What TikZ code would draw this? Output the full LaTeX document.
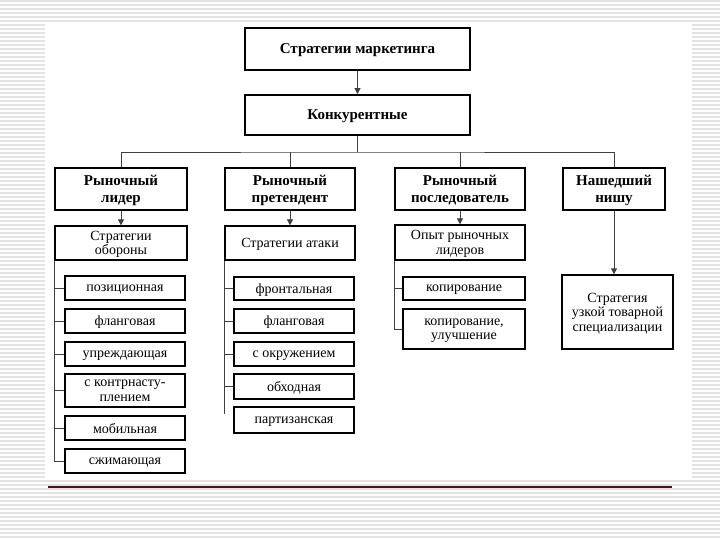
\documentclass[tikz,border=0pt]{standalone}
\usepackage{fontspec}
\setmainfont{Liberation Serif}
\usetikzlibrary{arrows.meta}
\definecolor{rulered}{RGB}{80,20,20}
\tikzset{
    stripe/.style={gray!22, line width=1.6pt},
    headbox/.style={draw, line width=1.8pt, align=center, inner sep=0pt, text depth=-1pt,
        font=\fontsize{15}{17}\selectfont\bfseries},
    subbox/.style={draw, line width=1.3pt, align=center, inner sep=0pt, text depth=-2pt,
        font=\fontsize{14}{14.5}\selectfont},
    link/.style={line width=0.8pt, black!75},
    arr/.style={link, -{Triangle[width=6pt, length=6pt]}}
}
\begin{document}
\begin{tikzpicture}[x=1pt, y=-1pt]

    \useasboundingbox (0,0) rectangle (720,540);

    % slide background
    \foreach \y in {1,5,...,539}
        \draw[stripe] (0,\y) -- (720,\y);
    \fill[white] (45,23) rectangle (692,479);
    \draw[line width=1.4pt, rulered] (48,487) -- (672,487);

    % top levels
    \node[headbox, minimum width=225pt, minimum height=42pt] (mark) at (357.5,49) {Стратегии маркетинга};
    \node[headbox, minimum width=225pt, minimum height=40pt] (comp) at (357.5,115) {Конкурентные};

    % types of firms
    \node[headbox, minimum width=132pt, minimum height=42pt] (lead) at (121,189) {Рыночный\\лидер};
    \node[headbox, minimum width=130pt, minimum height=42pt] (pret) at (290,189) {Рыночный\\претендент};
    \node[headbox, minimum width=130pt, minimum height=42pt] (foll) at (460,189) {Рыночный\\последователь};
    \node[headbox, minimum width=102pt, minimum height=42pt] (niche) at (614,189) {Нашедший\\нишу};

    % strategies
    \node[subbox, minimum width=132pt, minimum height=34pt] (def) at (121,243) {Стратегии\\обороны};
    \node[subbox, minimum width=130pt, minimum height=34pt] (atk) at (290,243) {Стратегии атаки};
    \node[subbox, minimum width=130pt, minimum height=35pt] (exp) at (460,242.5) {Опыт рыночных\\лидеров};
    \node[subbox, minimum width=111pt, minimum height=74pt] (spec) at (617.5,312) {Стратегия\\узкой товарной\\специализации};

    % defence
    \node[subbox, minimum width=120pt, minimum height=24pt] (l1) at (125,288) {позиционная};
    \node[subbox, minimum width=120pt, minimum height=24pt] (l2) at (125,321) {фланговая};
    \node[subbox, minimum width=120pt, minimum height=24pt] (l3) at (125,354) {упреждающая};
    \node[subbox, minimum width=120pt, minimum height=33pt] (l4) at (125,390.5) {с контрнасту-\\плением};
    \node[subbox, minimum width=120pt, minimum height=24pt] (l5) at (125,428) {мобильная};
    \node[subbox, minimum width=120pt, minimum height=24pt] (l6) at (125,461) {сжимающая};

    % attack
    \node[subbox, minimum width=120pt, minimum height=23pt] (p1) at (294,288.5) {фронтальная};
    \node[subbox, minimum width=120pt, minimum height=24pt] (p2) at (294,321) {фланговая};
    \node[subbox, minimum width=120pt, minimum height=24pt] (p3) at (294,354) {с окружением};
    \node[subbox, minimum width=120pt, minimum height=25pt] (p4) at (294,386.5) {обходная};
    \node[subbox, minimum width=120pt, minimum height=26pt] (p5) at (294,420) {партизанская};

    % follower
    \node[subbox, minimum width=122pt, minimum height=23pt] (f1) at (464,288.5) {копирование};
    \node[subbox, minimum width=122pt, minimum height=40pt] (f2) at (464,329) {копирование,\\улучшение};

    % connectors
    \draw[arr] (mark) -- (comp);
    \coordinate (bus) at (357.5,152);
    \draw[link] (comp) -- (bus);
    \draw[link] (lead.north) |- (bus) -| (niche.north);
    \foreach \n in {pret, foll}
        \draw[link] (\n.north) -- (\n.north |- bus);

    \draw[arr] (lead) -- (def);
    \draw[arr] (pret) -- (atk);
    \draw[arr] (foll) -- (exp);
    \draw[arr] (niche.south) -- (niche.south |- spec.north);

    \draw[link] (def.south west) -- (def.south west |- l6.west);
    \foreach \i in {1,...,6}
        \draw[link] (def.south west |- l\i.west) -- (l\i.west);

    \draw[link] (atk.south west) -- ([yshift=-8pt]atk.south west |- p5.north);
    \foreach \i in {1,...,4}
        \draw[link] (atk.south west |- p\i.west) -- (p\i.west);

    \draw[link] (exp.south west) -- (exp.south west |- f2.west);
    \foreach \i in {1,2}
        \draw[link] (exp.south west |- f\i.west) -- (f\i.west);

\end{tikzpicture}
\end{document}
